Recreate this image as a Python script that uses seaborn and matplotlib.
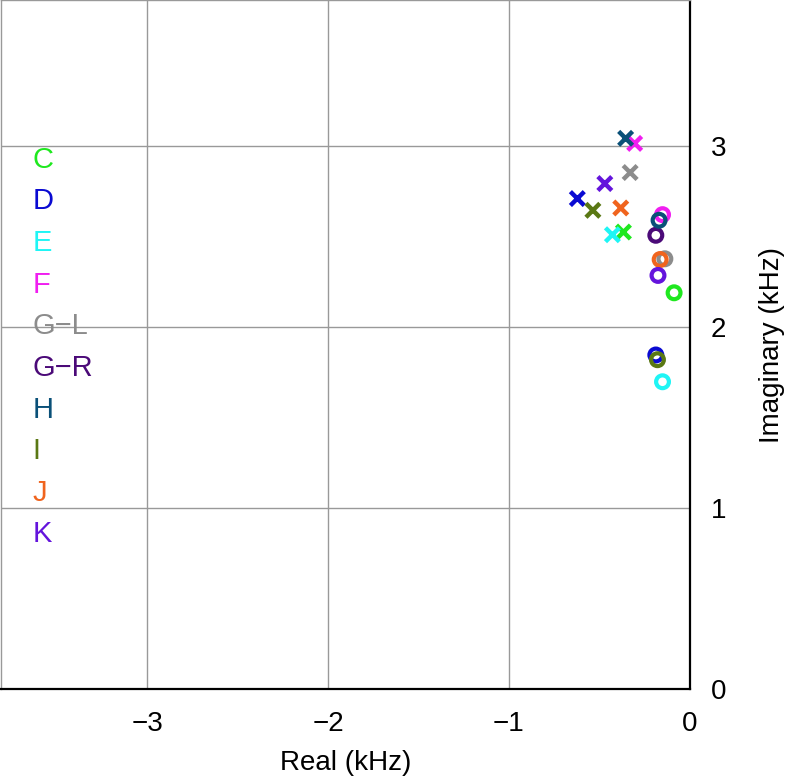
import pandas as pd
import seaborn as sns
import matplotlib.pyplot as plt

# groups in legend order
groups = ['C', 'D', 'E', 'F', 'G−L', 'G−R', 'H', 'I', 'J', 'K']
colors = ['#1fe81f', '#0a0ad2', '#1ff5f5', '#f01ef0', '#8c8c8c',
          '#4b0a78', '#0a5078', '#5a7814', '#f0641e', '#6414dc']

# poles marked with crosses (kHz)
cross_group = ['C', 'D', 'E', 'F', 'G−L', 'H', 'I', 'J', 'K']
cross_real = [-0.367, -0.622, -0.428, -0.305, -0.330, -0.355, -0.536, -0.382, -0.470]
cross_imag = [2.527, 2.712, 2.512, 3.017, 2.856, 3.045, 2.647, 2.660, 2.795]

# zeros marked with circles (kHz)
circle_group = ['C', 'D', 'E', 'F', 'G−L', 'G−R', 'H', 'I', 'J', 'K']
circle_real = [-0.087, -0.188, -0.151, -0.151, -0.138, -0.188, -0.170, -0.179, -0.164, -0.176]
circle_imag = [2.191, 1.847, 1.699, 2.623, 2.379, 2.509, 2.592, 1.821, 2.375, 2.287]

xticks = [-3, -2, -1, 0]
yticks = [0, 1, 2, 3]

crosses = pd.DataFrame({'group': cross_group, 'real': cross_real, 'imag': cross_imag})
circles = pd.DataFrame({'group': circle_group, 'real': circle_real, 'imag': circle_imag})
palette = dict(zip(groups, colors))

sns.set_style('white')
plt.rcParams['font.family'] = ['Liberation Sans', 'DejaVu Sans']
plt.rcParams['text.color'] = 'black'
plt.rcParams['axes.labelcolor'] = 'black'
plt.rcParams['xtick.color'] = 'black'
plt.rcParams['ytick.color'] = 'black'

fig = plt.figure(figsize=(7.89, 7.76), dpi=100)
ax = fig.add_axes([0.001, 0.1121, 0.8733, 0.8879])

sns.scatterplot(ax=ax, data=crosses, x='real', y='imag', hue='group', hue_order=groups,
                palette=palette, marker='x', s=100, linewidth=3.2, legend=False, zorder=3)
sns.scatterplot(ax=ax, data=circles, x='real', y='imag', hue='group', hue_order=groups,
                palette=palette, marker='o', s=85, linewidth=3.0, legend=False, zorder=3)
# hollow circles: move hue color from face to edge
coll = ax.collections[-1]
fc = coll.get_facecolors()
coll.set_edgecolors(fc)
coll.set_facecolors('none')

ax.set_xlim(-3.81, 0)
ax.set_ylim(0, 3.81)
ax.set_xticks(xticks)
ax.set_yticks(yticks)
ax.set_xticklabels(['−3', '−2', '−1', '0'])
ax.grid(True, color='#999999', linewidth=1)
ax.set_axisbelow(True)
ax.yaxis.tick_right()
ax.yaxis.set_label_position('right')
ax.tick_params(axis='x', length=0, labelsize=20, pad=16)
ax.tick_params(axis='y', length=0, labelsize=20, pad=15)
ax.set_xlabel('Real (kHz)', fontsize=20, labelpad=9)
ax.set_ylabel('Imaginary (kHz)', fontsize=20, labelpad=24)

for side in ['left', 'top']:
    ax.spines[side].set_color('#999999')
    ax.spines[side].set_linewidth(1)
for side in ['right', 'bottom']:
    ax.spines[side].set_color('black')
    ax.spines[side].set_linewidth(1.6)

# text legend down the left side
for i, (g, c) in enumerate(zip(groups, colors)):
    ax.text(0.046, 0.768 - i * 0.0604, g, color=c, fontsize=21,
            transform=ax.transAxes, va='center', ha='left')

fig.savefig('out.png', dpi=100)
